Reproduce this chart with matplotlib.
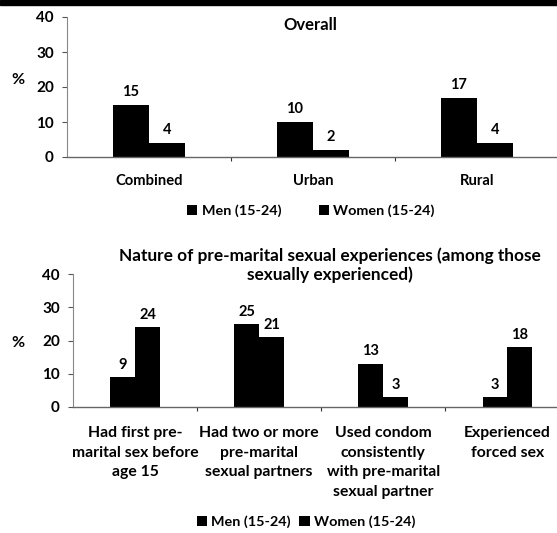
import numpy as np
import matplotlib
matplotlib.use("Agg")
import matplotlib.pyplot as plt
from matplotlib.patches import Rectangle

# ------------------------------------------------------------------
# Data
# ------------------------------------------------------------------
overall_cats  = ["Combined", "Urban", "Rural"]
overall_men   = [15, 10, 17]
overall_women = [4, 2, 4]

nature_cats = [
    "Had first pre-\nmarital sex before\nage 15",
    "Had two or more\npre-marital\nsexual partners",
    "Used condom\nconsistently\nwith pre-marital\nsexual partner",
    "Experienced\nforced sex",
]
nature_men   = [9, 25, 13, 3]
nature_women = [24, 21, 3, 18]

series_names = ["Men (15-24)", "Women (15-24)"]
yticks = [0, 10, 20, 30, 40]

plt.rcParams["font.family"] = ["Lato", "DejaVu Sans"]
plt.rcParams["font.weight"] = "bold"

W, H = 557, 533
fig = plt.figure(figsize=(W / 100, H / 100), dpi=100)

# black band along the top edge (scan artefact)
fig.patches.append(Rectangle((0, 1 - 5 / H), 1, 5 / H, transform=fig.transFigure,
                             color="black", zorder=10))


def draw_panel(ax, cats, men, women, width, xmax, cat_size, spacing, pad):
    x = np.arange(len(cats))
    b1 = ax.bar(x - width / 2, men, width, color="black", label=series_names[0])
    b2 = ax.bar(x + width / 2, women, width, color="black", label=series_names[1])
    for bars, vals in ((b1, men), (b2, women)):
        for bar, v in zip(bars, vals):
            ax.text(bar.get_x() + bar.get_width() / 2, v + 1.6, f"{v}",
                    ha="center", va="bottom", fontsize=10.5, fontweight="bold")
    ax.set_ylim(0, 40)
    ax.set_yticks(yticks)
    ax.set_xlim(-0.5, xmax)
    ax.set_xticks(x)
    ax.set_xticklabels(cats, fontsize=cat_size, fontweight="bold", linespacing=spacing)
    ax.tick_params(axis="x", length=0, pad=pad)
    ax.set_xticks(x[:-1] + 0.5, minor=True)
    ax.tick_params(axis="x", which="minor", length=3, width=0.8, color="#333333")
    ax.tick_params(axis="y", length=3.5, width=0.8, labelsize=11, color="#555555", pad=6)
    for s in ("top", "right"):
        ax.spines[s].set_visible(False)
    ax.spines["left"].set_color("#888888")
    ax.spines["left"].set_linewidth(0.8)
    ax.spines["bottom"].set_color("#666666")
    ax.spines["bottom"].set_linestyle((0, (1, 1)))
    ax.spines["bottom"].set_linewidth(1.0)
    ax.set_facecolor("none")
    return b1, b2


# ---- top panel ----
ax1 = fig.add_axes([67 / W, 1 - 157 / H, 490 / W, 140 / H])
h1 = draw_panel(ax1, overall_cats, overall_men, overall_women, 0.22, 2.49,
                10.6, 1.3, 12)
fig.text(310 / W, 1 - 25 / H, "Overall", ha="center", va="center",
         fontsize=12, fontweight="bold")
fig.text(18 / W, 1 - 80 / H, "%", ha="center", va="center",
         fontsize=11.5, fontweight="bold")
fig.legend(h1, series_names, loc="center", bbox_to_anchor=(311 / W, 1 - 211 / H),
           ncol=2, frameon=False, handlelength=0.7, handleheight=0.7,
           handletextpad=0.3, columnspacing=2.6, prop={"weight": "bold", "size": 10.4})

# ---- bottom panel ----
ax2 = fig.add_axes([73 / W, 1 - 407 / H, 484 / W, 133 / H])
h2 = draw_panel(ax2, nature_cats, nature_men, nature_women, 0.2, 3.4,
                11.3, 1.5, 14)
fig.text(330 / W, 1 - 265 / H,
         "Nature of pre-marital sexual experiences (among those\nsexually experienced)",
         ha="center", va="center", fontsize=12.4, fontweight="bold", linespacing=1.15)
fig.text(18 / W, 1 - 343 / H, "%", ha="center", va="center",
         fontsize=11.5, fontweight="bold")
fig.legend(h2, series_names, loc="center", bbox_to_anchor=(306 / W, 1 - 522 / H),
           ncol=2, frameon=False, handlelength=0.7, handleheight=0.7,
           handletextpad=0.3, columnspacing=0.6, prop={"weight": "bold", "size": 10.4})

fig.savefig("out.png", dpi=100)
